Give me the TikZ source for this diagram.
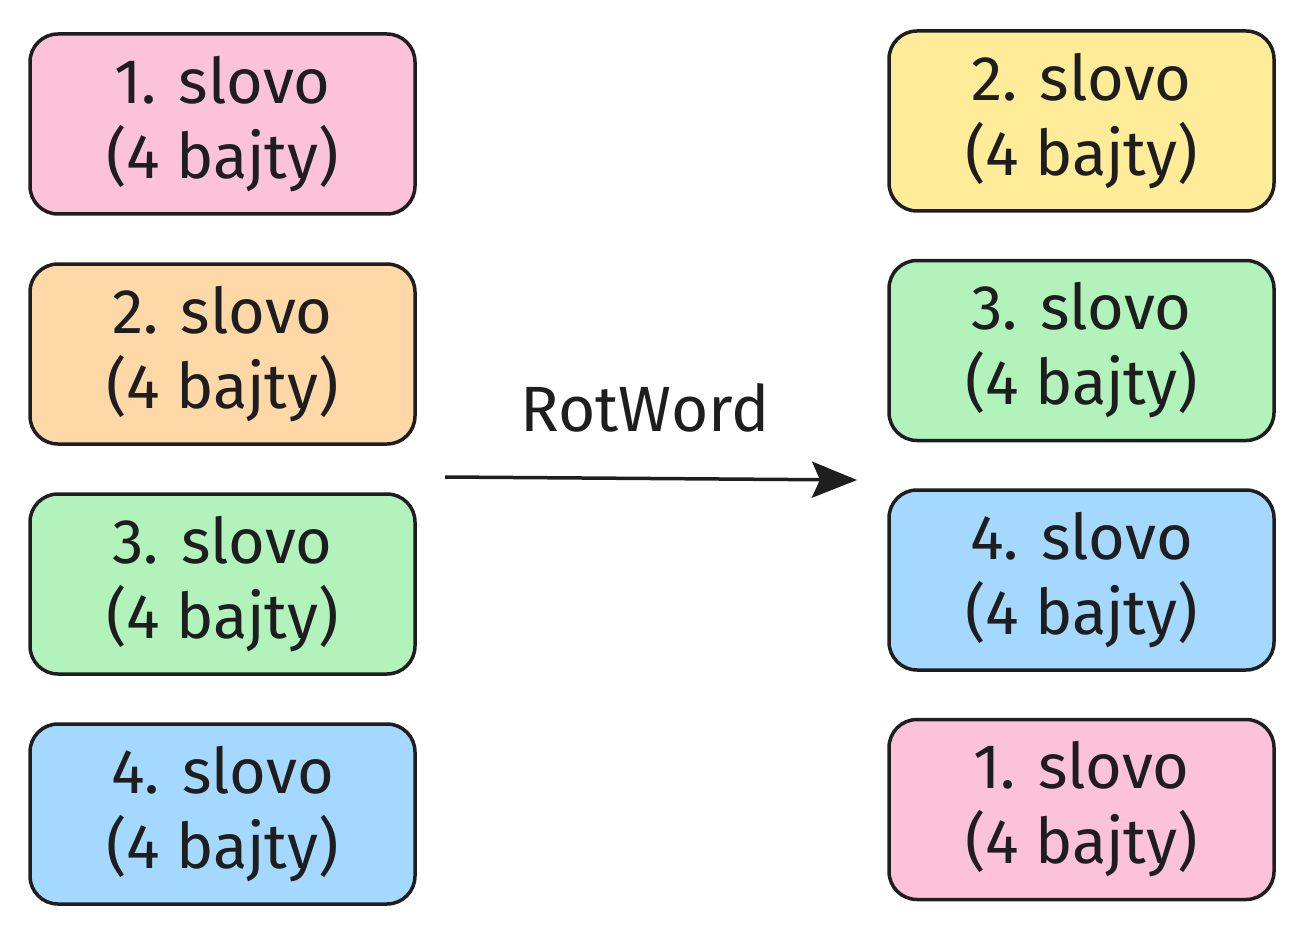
\documentclass[tikz,border=0pt]{standalone}
\usepackage{fontspec}
\setmainfont{Fira Sans}
\usetikzlibrary{arrows.meta}

\definecolor{wpink}{HTML}{FCC2D7}
\definecolor{worange}{HTML}{FFD8A8}
\definecolor{wgreen}{HTML}{B2F2BB}
\definecolor{wblue}{HTML}{A5D8FF}
\definecolor{wyellow}{HTML}{FFEC99}
\definecolor{wink}{HTML}{1E1E1E}

\begin{document}
\begin{tikzpicture}[x=1pt, y=1pt, node distance=230pt,
  word/.style={draw=wink, line width=3.5pt, rectangle, rounded corners=28pt,
    minimum width=385pt, minimum height=180pt, align=center,
    font=\fontsize{63}{75}\selectfont, text=wink}]
\useasboundingbox (0,0) rectangle (1305,-933);

% input words
\node[word, fill=wpink] (w1) at (222.5,-124) {1. slovo\\(4 bajty)};
\node[word, fill=worange, below of=w1] (w2) {2. slovo\\(4 bajty)};
\node[word, fill=wgreen, below of=w2] (w3) {3. slovo\\(4 bajty)};
\node[word, fill=wblue, below of=w3] (w4) {4. slovo\\(4 bajty)};

% rotated words
\node[word, fill=wyellow] (r2) at (1081.5,-121) {2. slovo\\(4 bajty)};
\node[word, fill=wgreen, below of=r2, node distance=229.5pt] (r3) {3. slovo\\(4 bajty)};
\node[word, fill=wblue, below of=r3, node distance=229.5pt] (r4) {4. slovo\\(4 bajty)};
\node[word, fill=wpink, below of=r4, node distance=229.5pt] (r1) {1. slovo\\(4 bajty)};

\coordinate (from) at (445,-477);
\coordinate (to) at (857,-480);
\draw[-{Stealth[length=45pt, width=36pt, inset=8pt]}, line width=3.5pt, draw=wink] (from) -- (to);
\node[font=\fontsize{64}{75}\selectfont, text=wink] (rot) at (645,-408) {RotWord};

\end{tikzpicture}
\end{document}
